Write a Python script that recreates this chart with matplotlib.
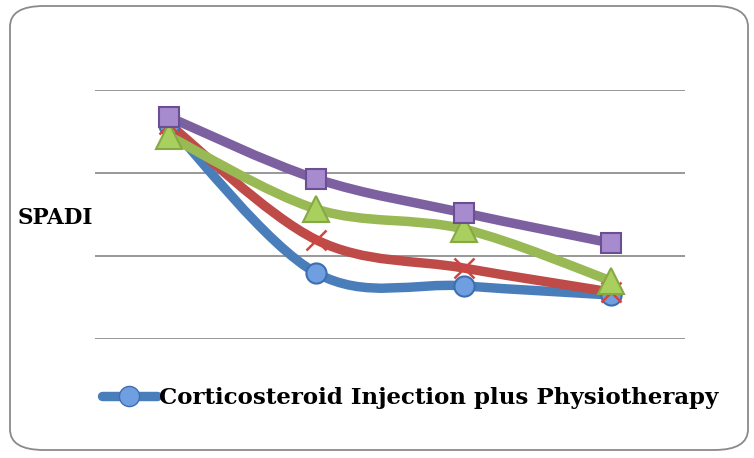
import matplotlib.pyplot as plt
from matplotlib.path import Path
from matplotlib.patches import PathPatch, FancyBboxPatch
from matplotlib.lines import Line2D

# valores (escala SPADI aproximada)
visitas = [0, 1, 2, 3]
cortico = [51.6, 15.9, 12.8, 10.6]
serie_roja = [51.8, 23.9, 17.1, 11.3]
serie_verde = [48.9, 31.3, 26.5, 14.0]
serie_morada = [53.5, 38.6, 30.4, 23.1]
etiqueta = "Corticosteroid Injection plus Physiotherapy"

fig = plt.figure(figsize=(7.54, 4.58), dpi=100)
fig.patch.set_facecolor('white')

# marco redondeado
marco = FancyBboxPatch((10 / 754, 8 / 458), 738 / 754, 444 / 458,
                       boxstyle="round,pad=0,rounding_size=0.045",
                       transform=fig.transFigure, fc='white', ec='#8a8a8a', lw=1.3,
                       zorder=-5)
fig.patches.append(marco)

ax = fig.add_axes([95 / 754, 119 / 458, 590 / 754, 249 / 458])
ax.set_xlim(-0.5, 3.5)
ax.set_ylim(0, 60)
for s in ax.spines.values():
    s.set_visible(False)
ax.set_xticks([])
ax.set_yticks([0, 20, 40, 60])
ax.set_yticklabels([])
ax.tick_params(length=0)
ax.grid(axis='y', color='#868686', lw=1.2)
ax.set_axisbelow(True)
ax.patch.set_alpha(0)


def curva_suave(x, y):
    # bezier estilo Excel
    pts = list(zip(x, y))
    n = len(pts)
    verts = [pts[0]]
    codes = [Path.MOVETO]
    for i in range(n - 1):
        p0 = pts[max(i - 1, 0)]
        p1 = pts[i]
        p2 = pts[i + 1]
        p3 = pts[min(i + 2, n - 1)]
        c1 = (p1[0] + (p2[0] - p0[0]) / 6, p1[1] + (p2[1] - p0[1]) / 6)
        c2 = (p2[0] - (p3[0] - p1[0]) / 6, p2[1] - (p3[1] - p1[1]) / 6)
        verts += [c1, c2, p2]
        codes += [Path.CURVE4] * 3
    return Path(verts, codes)


series = [
    (cortico, '#4a7ebb', 'o', '#6f9fe0', '#3d6fb0', 14.5),
    (serie_roja, '#be4b48', 'x', 'none', '#d2443f', 14),
    (serie_verde, '#98b954', '^', '#a9d05e', '#86a845', 19),
    (serie_morada, '#7d60a0', 's', '#a68bcf', '#6c4f92', 14.5),
]

for vals, color, mk, fc, ec, ms in series:
    ax.add_patch(PathPatch(curva_suave(visitas, vals), fc='none', ec=color,
                           lw=6.8, capstyle='round', joinstyle='round', zorder=3))
    ax.plot(visitas, vals, ls='none', marker=mk, ms=ms, mfc=fc, mec=ec,
            mew=1.5 if mk != 'x' else 1.8, zorder=4, clip_on=False)

fig.text(18 / 754, 1 - 218 / 458, "SPADI", fontsize=15.5, fontweight='bold',
         family='DejaVu Serif', ha='left', va='center')

h = Line2D([], [], color='#4a7ebb', lw=6.8, marker='o', ms=14.5,
           mfc='#6f9fe0', mec='#3d6fb0', solid_capstyle='round')
fig.legend([h], [etiqueta], loc='center', bbox_to_anchor=(410 / 754, 1 - 398 / 458),
           frameon=False, handlelength=2.4, handletextpad=0.1,
           prop={'family': 'DejaVu Serif', 'weight': 'bold', 'size': 16.5})

fig.savefig("out.png", dpi=100)
